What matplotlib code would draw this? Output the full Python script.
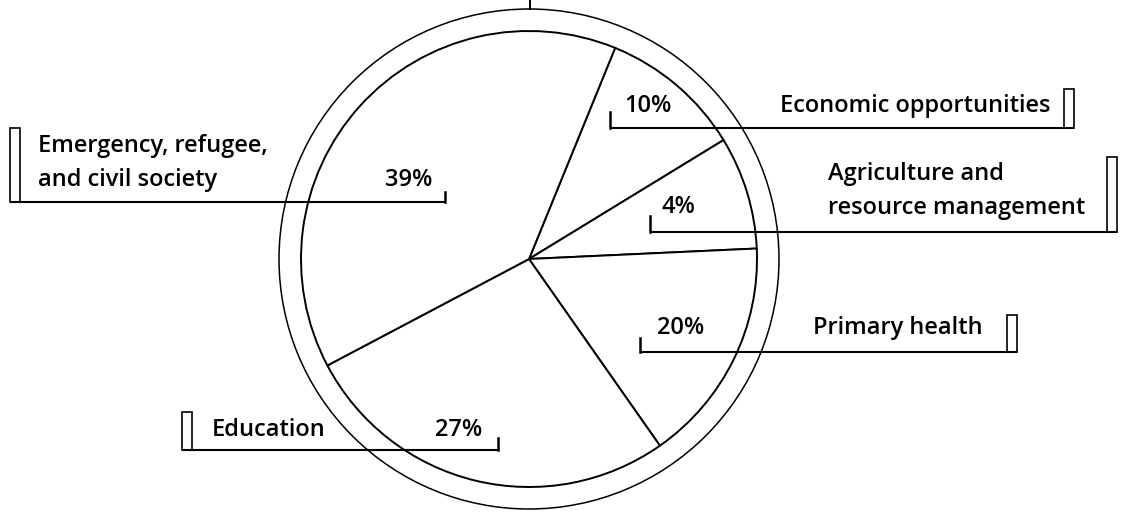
import matplotlib
matplotlib.use("Agg")
import matplotlib.pyplot as plt
from matplotlib.patches import Circle, Rectangle

W, H = 1130, 512

# categories, clockwise from the top-right wedge
names = ["Economic opportunities",
         "Agriculture and\nresource management",
         "Primary health",
         "Education",
         "Emergency, refugee,\nand civil society"]
pct_labels = ["10%", "4%", "20%", "27%", "39%"]
# wedge sizes as they are drawn in the source (percent of the circle)
drawn_shares = [10.1, 8.0, 16.0, 27.0, 38.9]

# label frames in pixel coords: underline y, x-left, x-right, side of the box
frames = [
    dict(y=127.5, x0=610, x1=1074, box="right", top=89, tick=112,
         pct=(624, 111.5, "left"), name=(1050, [111.5], "right")),
    dict(y=231.5, x0=650, x1=1117, box="right", top=157, tick=216,
         pct=(662, 213, "left"), name=(828, [180, 214], "left")),
    dict(y=352, x0=640, x1=1017, box="right", top=315, tick=338,
         pct=(657, 334.5, "left"), name=(983, [334.5], "right")),
    dict(y=450, x0=182, x1=498, box="left", top=412, tick=438,
         pct=(482, 436, "right"), name=(212, [436], "left")),
    dict(y=202, x0=10, x1=445, box="left", top=128, tick=191.5,
         pct=(432, 186.5, "right"), name=(38, [152, 186], "left")),
]

FONT = dict(family=["Open Sans", "DejaVu Sans"], fontsize=17, fontweight="semibold")
CX, CY, R_IN, R_OUT = 529, 259, 228, 250

fig = plt.figure(figsize=(W / 100, H / 100), dpi=100)
ax = fig.add_axes([0, 0, 1, 1])

# y axis runs downward, so a counter-clockwise pie in data shows clockwise
ax.pie(drawn_shares, startangle=-67.8, counterclock=True, center=(CX, CY),
       radius=R_IN, wedgeprops=dict(facecolor="white", edgecolor="black", linewidth=1.4))
ax.add_patch(Circle((CX, CY), R_OUT, fill=False, edgecolor="black", linewidth=1.1))
ax.plot([CX + 1, CX + 1], [0, CY - R_OUT], color="black", lw=1.4)

for name, pct, f in zip(names, pct_labels, frames):
    ax.plot([f["x0"], f["x1"]], [f["y"], f["y"]], color="black", lw=1.5,
            solid_capstyle="butt")
    if f["box"] == "right":
        bx, tx = f["x1"] - 10, f["x0"]
    else:
        bx, tx = f["x0"], f["x1"]
    ax.add_patch(Rectangle((bx, f["top"]), 10, f["y"] - f["top"], fill=False,
                           edgecolor="black", linewidth=1.2))
    ax.plot([tx, tx], [f["tick"], f["y"]], color="black", lw=1.8)
    px, py, pha = f["pct"]
    ax.text(px, py, pct, ha=pha, va="baseline", **FONT)
    nx, nys, nha = f["name"]
    for line, ny in zip(name.split("\n"), nys):
        ax.text(nx, ny, line, ha=nha, va="baseline", **FONT)

ax.set_xlim(0, W)
ax.set_ylim(H, 0)
ax.set_aspect("auto")
ax.axis("off")
fig.savefig("out.png", dpi=100)
